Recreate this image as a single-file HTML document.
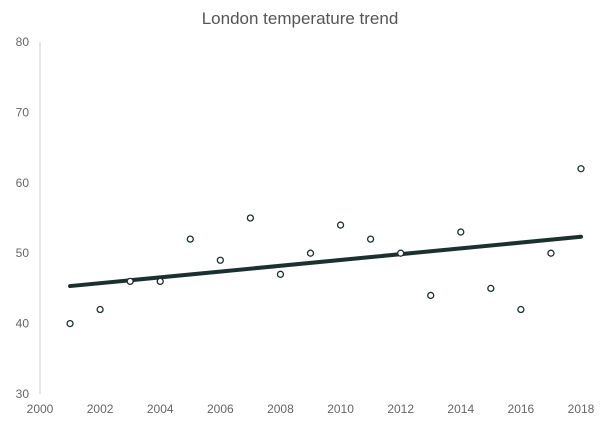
<!DOCTYPE html>
<html><head><meta charset="utf-8"><style>
html,body{margin:0;padding:0;background:#fff;}
svg{display:block;font-family:"Liberation Sans",sans-serif;}
</style></head><body>
<svg id="chart" width="600" height="428">
<text x="300" y="24" text-anchor="middle" font-size="17" fill="#555">London temperature trend</text>
<line x1="40" y1="42" x2="40" y2="394" stroke="#ccc" stroke-width="1"/>
<g id="yticks"></g><g id="xticks"></g><g id="trend"></g><g id="points"></g>
</svg>
<script>
const years=[2001,2002,2003,2004,2005,2006,2007,2008,2009,2010,2011,2012,2013,2014,2015,2016,2017,2018];
const temps=[40,42,46,46,52,49,55,47,50,54,52,50,44,53,45,42,50,62];
const yTickLabels=[30,40,50,60,70,80];
const xTickLabels=[2000,2002,2004,2006,2008,2010,2012,2014,2016,2018];
const NS="http://www.w3.org/2000/svg";
function xs(v){return 40+(v-2000)*(541/18);}
function ys(v){return 394-(v-30)*(352/50);}
function mk(tag,attrs,parent){const e=document.createElementNS(NS,tag);for(const k in attrs)e.setAttribute(k,attrs[k]);parent.appendChild(e);return e;}
const yt=document.getElementById('yticks');
yTickLabels.forEach(v=>{const t=mk('text',{x:29,y:ys(v)+4,'text-anchor':'end','font-size':12,fill:'#666'},yt);t.textContent=v;

});
const xt=document.getElementById('xticks');
xTickLabels.forEach(v=>{const t=mk('text',{x:xs(v),y:413,'text-anchor':'middle','font-size':12,fill:'#666'},xt);t.textContent=v;

});
const n=years.length;const mx=years.reduce((a,b)=>a+b,0)/n;const my=temps.reduce((a,b)=>a+b,0)/n;
let sxy=0,sxx=0;for(let i=0;i<n;i++){sxy+=(years[i]-mx)*(temps[i]-my);sxx+=(years[i]-mx)**2;}
const slope=sxy/sxx;const x0=years[0],x1=years[n-1];
const ln=mk('line',{x1:xs(x0),y1:ys(my+slope*(x0-mx)),x2:xs(x1),y2:ys(my+slope*(x1-mx)),stroke:'#1d3030','stroke-width':4,'stroke-linecap':'round'},document.getElementById('trend'));


const pg=document.getElementById('points');
years.forEach((y,i)=>{const c=mk('circle',{cx:xs(y),cy:ys(temps[i]),r:3,fill:'#fff',stroke:'#1d3030','stroke-width':1.3},pg);

});
</script>
</body></html>
